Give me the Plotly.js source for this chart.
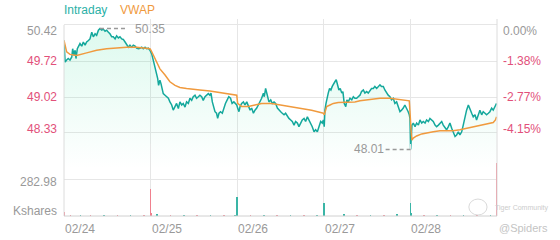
<!DOCTYPE html>
<html><head><meta charset="utf-8">
<script src="https://cdn.plot.ly/plotly-3.0.1.min.js"></script>
<style>html,body{margin:0;padding:0;background:#fff}#chart{width:560px;height:240px}</style>
</head><body><div id="chart"></div>
<script>
// ---- data ----
const dayLabels = ['02/24','02/25','02/26','02/27','02/28'];
const dayStarts = [0,390,780,1170,1560];
const sessionEnd = 1950;

const intradayTime = [
0,5,12,19,27,35,39,45,50,54,60,66,72,80,87,95,102,110,117,125,132,140,147,155,162,170,177,185,192,200,207,215,222,230,237,245,252,260,267,275,282,290,297,305,312,320,327,335,342,350,357,365,372,380,387,
395,402,410,417,422,426,432,437,441,447,455,462,470,477,485,492,500,507,515,522,530,537,545,552,560,567,575,582,590,597,605,612,620,627,635,642,650,657,662,668,672,680,687,692,698,705,713,720,727,735,742,750,757,765,773,778,
782,788,793,800,808,815,823,830,838,845,853,860,868,875,883,890,898,902,908,913,917,923,931,938,946,953,961,968,976,983,991,998,1006,1013,1021,1028,1036,1043,1051,1058,1066,1073,1081,1088,1096,1103,1111,1118,1126,1133,1141,1148,1156,1163,1168,
1172,1175,1180,1184,1190,1196,1202,1208,1214,1220,1226,1233,1238,1244,1251,1256,1262,1269,1274,1280,1288,1296,1303,1310,1318,1325,1333,1340,1348,1355,1363,1370,1378,1385,1393,1400,1408,1415,1423,1430,1438,1445,1453,1460,1468,1475,1483,1490,1498,1505,1513,1520,1528,1535,1543,1550,1555,1558,
1561,1564,1567,1573,1581,1588,1596,1603,1611,1618,1626,1633,1641,1648,1656,1663,1671,1678,1686,1693,1701,1708,1716,1723,1731,1738,1746,1753,1761,1768,1776,1783,1791,1798,1806,1813,1821,1828,1836,1843,1851,1858,1866,1873,1881,1888,1896,1903,1911,1918,1926,1933,1941,1948];
const intradayPrice = [
50.12,49.70,49.74,49.77,49.74,49.80,49.96,49.83,49.93,49.77,49.96,50.03,50.06,50.01,50.09,50.03,50.09,50.12,50.15,50.28,50.19,50.25,50.22,50.32,50.35,50.32,50.34,50.30,50.32,50.28,50.25,50.19,50.19,50.15,50.21,50.17,50.19,50.15,50.14,50.09,50.03,49.99,50.03,49.99,50.03,50.01,49.97,49.96,49.97,49.99,49.96,49.99,49.96,49.97,49.93,
49.86,49.74,49.61,49.51,49.38,49.25,49.35,49.28,49.19,49.09,49.06,49.03,49.00,48.93,48.87,48.77,48.83,48.90,48.80,48.93,48.87,48.90,48.83,48.93,48.90,49.00,48.96,49.03,49.06,49.00,49.03,49.06,49.03,48.96,49.03,49.06,49.09,49.06,49.10,48.93,48.87,48.74,48.71,48.61,48.71,48.74,48.71,48.81,48.90,48.97,49.03,49.00,48.90,48.93,48.90,48.87,
48.81,48.74,48.84,48.90,48.93,48.87,48.93,48.84,48.77,48.81,48.71,48.77,48.81,48.87,48.93,49.00,49.10,49.03,49.19,49.10,49.03,48.93,48.97,48.90,48.93,48.90,48.81,48.77,48.74,48.71,48.68,48.71,48.64,48.61,48.58,48.55,48.48,48.55,48.52,48.45,48.52,48.58,48.61,48.55,48.64,48.58,48.52,48.45,48.35,48.39,48.35,48.45,48.55,48.52,48.58,
48.45,48.77,48.90,49.00,49.10,49.19,49.16,49.23,49.29,49.32,49.36,49.26,49.16,49.19,49.10,49.13,48.90,48.84,48.97,48.93,49.00,48.97,49.03,49.00,49.00,49.03,49.06,49.13,49.16,49.10,49.13,49.10,49.16,49.19,49.19,49.23,49.19,49.23,49.26,49.23,49.23,49.16,49.10,49.06,49.03,48.97,49.00,48.90,48.93,48.84,48.74,48.77,48.81,48.87,48.81,48.74,48.68,48.61,
48.01,48.26,48.48,48.52,48.45,48.52,48.48,48.58,48.52,48.55,48.52,48.58,48.55,48.61,48.58,48.55,48.48,48.45,48.48,48.52,48.55,48.48,48.42,48.39,48.45,48.52,48.42,48.35,48.26,48.29,48.35,48.29,48.35,48.48,48.64,48.77,48.87,48.81,48.71,48.64,48.68,48.58,48.71,48.77,48.68,48.74,48.71,48.68,48.71,48.74,48.81,48.77,48.84,48.90];

const vwapTime = [
0,12,27,57,102,147,192,237,282,327,372,387,
392,410,432,455,477,500,522,552,582,612,657,710,778,
782,800,830,860,890,935,980,1025,1070,1115,1160,1168,
1172,1183,1198,1213,1235,1265,1310,1333,1378,1423,1468,1513,1555,
1563,1567,1573,1588,1611,1633,1663,1693,1723,1753,1783,1813,1843,1873,1903,1933,1943,1948];
const vwapPrice = [
50.12,49.90,49.85,49.83,49.88,49.93,49.96,49.98,49.99,49.99,49.97,49.96,
49.93,49.77,49.57,49.45,49.32,49.25,49.21,49.19,49.18,49.16,49.14,49.10,49.06,
48.90,48.84,48.84,48.87,48.90,48.90,48.87,48.84,48.81,48.77,48.72,48.71,
48.68,48.84,48.87,48.90,48.92,48.92,48.93,48.95,48.98,49.00,49.00,48.98,48.95,
48.39,48.19,48.23,48.27,48.31,48.33,48.35,48.37,48.37,48.37,48.39,48.42,48.45,48.47,48.50,48.53,48.58,48.64];

const volTime  = [0,3,30,75,120,180,240,300,360,389,390,392,420,480,540,600,660,720,770,780,782,840,900,960,1020,1080,1140,1170,1172,1260,1320,1380,1440,1500,1560,1562,1620,1680,1740,1800,1860,1920,1949];
const volValue = [30,8,5,6,4,5,6,5,7,10,210,22,12,8,6,7,5,6,8,152,45,10,8,6,7,5,8,100,45,15,6,7,8,15,100,20,8,6,7,8,6,10,420];
const volDir   = ['d','d','d','u','d','u','d','u','d','d','d','d','u','d','u','d','u','d','u','u','u','d','u','d','u','d','u','u','u','u','d','u','d','u','u','u','d','u','d','u','d','u','d'];

const priceTicks = [50.42,49.72,49.02,48.33];
const pctTicks = ['0.00%','-1.38%','-2.77%','-4.15%'];
const volTick = 282.98;
const highPoint = {t:162, p:50.35};
const lowPoint = {t:1561, p:48.01};

// ---- styles ----
const TEAL = '#14a89c', ORANGE = '#f09a3e', GRAY = '#999999', PINK = '#e2507a', GRID = '#e6e6e6';
const FONT = 'Liberation Sans, Arial, sans-serif';
const tickShift = [-6,0,0,4];

const traces = [
  {x:intradayTime, y:intradayPrice, type:'scatter', mode:'lines', xaxis:'x', yaxis:'y',
   line:{color:TEAL, width:1.5}, fill:'tozeroy',
   fillgradient:{type:'vertical', start:47.63, stop:50.42,
     colorscale:[[0,'rgba(40,220,150,0.0)'],[1,'rgba(40,220,150,0.16)']]}},
  {x:vwapTime, y:vwapPrice, type:'scatter', mode:'lines', xaxis:'x', yaxis:'y',
   line:{color:ORANGE, width:1.5}},
  {x:volTime, y:volValue, type:'bar', xaxis:'x', yaxis:'y2', width:7,
   marker:{color:volDir.map(d=>d==='u'?'#3ab5a6':'#f0808e'), line:{width:0}}}
];

const ann = [];
priceTicks.forEach((v,i)=>{
  const c = i===0?GRAY:PINK;
  ann.push({xref:'paper', x:0, xanchor:'right', xshift:-5, yref:'y', y:v, yanchor:'middle', yshift:tickShift[i],
    text:v.toFixed(2), showarrow:false, font:{family:FONT, size:12, color:c}});
  ann.push({xref:'paper', x:1, xanchor:'left', xshift:4, yref:'y', y:v, yanchor:'middle', yshift:tickShift[i],
    text:pctTicks[i], showarrow:false, font:{family:FONT, size:12, color:c}});
});
ann.push({xref:'paper', x:0, xanchor:'right', xshift:-5, yref:'y2', y:volTick, yanchor:'middle', yshift:-2,
  text:volTick.toFixed(2), showarrow:false, font:{family:FONT, size:12, color:GRAY}});
ann.push({xref:'paper', x:0, xanchor:'right', xshift:-5, yref:'y2', y:0, yanchor:'middle', yshift:5,
  text:'Kshares', showarrow:false, font:{family:FONT, size:12, color:GRAY}});
dayLabels.forEach((d,i)=>{
  ann.push({xref:'x', x:dayStarts[i], xanchor:'left', xshift:-1, yref:'paper', y:0, yanchor:'top', yshift:-4,
    text:d, showarrow:false, font:{family:FONT, size:12, color:GRAY}});
});
ann.push({xref:'paper', x:0, xanchor:'left', xshift:-2, yref:'paper', y:1, yanchor:'middle', yshift:9,
  text:'Intraday', showarrow:false, font:{family:FONT, size:12, color:'#2bb0a6'}});
ann.push({xref:'paper', x:0, xanchor:'left', xshift:54, yref:'paper', y:1, yanchor:'middle', yshift:9,
  text:'VWAP', showarrow:false, font:{family:FONT, size:12, color:ORANGE}});
ann.push({xref:'x', x:highPoint.t, xanchor:'left', xshift:33, yref:'y', y:highPoint.p, yanchor:'middle',
  text:highPoint.p.toFixed(2), showarrow:false, font:{family:FONT, size:12, color:GRAY}});
ann.push({xref:'x', x:lowPoint.t, xanchor:'right', xshift:-25, yref:'y', y:lowPoint.p, yanchor:'middle',
  text:lowPoint.p.toFixed(2), showarrow:false, font:{family:FONT, size:12, color:GRAY}});
ann.push({xref:'paper', x:0.99, xanchor:'left', yref:'paper', y:0.04, yanchor:'middle',
  text:'Tiger Community', showarrow:false, font:{family:FONT, size:7, color:'#cccccc'}});
ann.push({xref:'paper', x:1.122, xanchor:'right', yref:'paper', y:-0.061, yanchor:'middle',
  text:'@Spiders', showarrow:false, font:{family:FONT, size:11, color:'#c4c4c4'}});

const shapes = [
  {type:'line', xref:'paper', yref:'paper', x0:0, x1:0, y0:0, y1:0.97, line:{color:'#dcdcdc', width:1}},
  {type:'line', xref:'paper', yref:'paper', x0:1, x1:1, y0:0, y1:1, line:{color:'#dcdcdc', width:1}},
  {type:'line', xref:'paper', yref:'paper', x0:0, x1:1, y0:0, y1:0, line:{color:'#d0d0d0', width:1}},
  {type:'line', xref:'x', yref:'y', xsizemode:'pixel', xanchor:highPoint.t, x0:0, x1:28, y0:highPoint.p, y1:highPoint.p,
   line:{color:GRAY, width:1.5, dash:'4px,3px'}},
  {type:'line', xref:'x', yref:'y', xsizemode:'pixel', xanchor:lowPoint.t, x0:-25, x1:0, y0:lowPoint.p, y1:lowPoint.p,
   line:{color:GRAY, width:1.5, dash:'4px,3px'}},
  {type:'circle', xref:'paper', yref:'paper', x0:0.935, x1:0.977, y0:0.005, y1:0.086, line:{color:'#dadada', width:1}}
];

const layout = {
  width:560, height:240, margin:{l:64, r:63, t:19, b:24},
  paper_bgcolor:'#fff', plot_bgcolor:'rgba(0,0,0,0)', showlegend:false, bargap:0,
  font:{family:FONT, size:12, color:GRAY},
  xaxis:{range:[0,sessionEnd], tickvals:dayStarts.concat([sessionEnd]), showticklabels:false, ticks:'',
    showgrid:true, gridcolor:GRID, gridwidth:1, zeroline:false, showline:false, anchor:'y2'},
  yaxis:{domain:[0.2386,1], range:[47.63,50.536], tickvals:priceTicks, showticklabels:false, ticks:'',
    showgrid:true, gridcolor:GRID, zeroline:false, showline:false, anchor:'x'},
  yaxis2:{domain:[0,0.3655], range:[0,565.96], tickvals:[volTick], showticklabels:false, ticks:'',
    showgrid:true, gridcolor:GRID, zeroline:false, showline:false, anchor:'x'},
  annotations:ann, shapes:shapes
};
Plotly.newPlot('chart', traces, layout, {staticPlot:true, displayModeBar:false});
</script></body></html>
